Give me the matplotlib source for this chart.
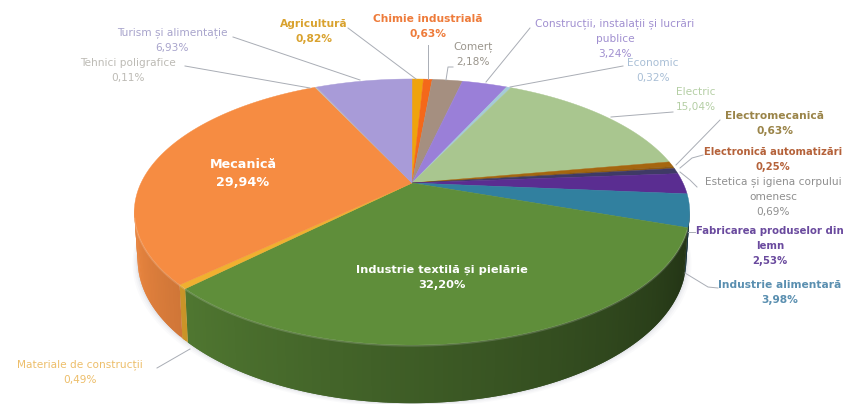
import numpy as np
import matplotlib
matplotlib.use("Agg")
import matplotlib.pyplot as plt
from matplotlib.collections import PolyCollection

names = ["Agricultură", "Chimie industrială", "Comerț", "Construcții, instalații și lucrări\npublice",
         "Economic", "Electric", "Electromecanică", "Electronică automatizări",
         "Estetica și igiena corpului\nomenesc", "Fabricarea produselor din\nlemn",
         "Industrie alimentară", "Industrie textilă și pielărie", "Materiale de construcții",
         "Mecanică", "Tehnici poligrafice", "Turism și alimentație"]
values = [0.82, 0.63, 2.18, 3.24, 0.32, 15.04, 0.63, 0.25, 0.69, 2.53, 3.98, 32.20, 0.49, 29.94, 0.11, 6.93]
labels_pct = ["0,82%", "0,63%", "2,18%", "3,24%", "0,32%", "15,04%", "0,63%", "0,25%", "0,69%", "2,53%",
              "3,98%", "32,20%", "0,49%", "29,94%", "0,11%", "6,93%"]
face_colors = ["#EFA30C", "#F4681A", "#A58F80", "#9A7FD8", "#A5CBD8", "#A9C68F", "#A5660F", "#8F5A10",
               "#3F3A66", "#5A2D91", "#31809F", "#5F8E3A", "#F0B030", "#F68C42", "#BDBDBD", "#A89BD8"]
text_colors = ["#D9A22E", "#EE7B3A", "#9A958C", "#A08FD0", "#A9BFD6", "#B5CFA5", "#9A8448", "#B5623A",
               "#8F8F8F", "#6A4A9E", "#5A8FB0", "#FFFFFF", "#EDBE6A", "#FFFFFF", "#BDBBB5", "#A8A4CC"]
bold = [1, 1, 0, 0, 0, 0, 1, 1, 0, 1, 1, 1, 0, 1, 0, 0]
font_sizes = [7.7, 7.7, 7.6, 7.6, 7.6, 7.6, 7.7, 7.2, 7.6, 7.3, 7.7, 8.2, 7.6, 9.2, 7.6, 7.6]
label_pos = [(314, 24), (428, 19), (473, 47), (615, 24), (653, 63), (696, 92), (775, 116), (773, 152),
             (773, 182), (770, 231), (780, 285), (442, 270), (80, 365), (243, 165), (128, 63), (172, 33)]
leaders = [[(348, 28), (416, 79)], [(428, 45), (428, 79)], [(453, 67), (448, 67), (446, 80)],
           [(530, 28), (486, 82)], [(623, 66), (510, 87)], [(673, 112), (611, 117)],
           [(720, 120), (676, 165)], [(703, 155), (692, 158), (680, 168)],
           [(697, 187), (690, 180), (680, 172)], [(695, 232), (688, 232)],
           [(718, 288), (708, 287), (685, 273)], None, [(157, 368), (190, 349)], None,
           [(185, 66), (310, 88)], [(233, 37), (360, 80)]]

CX, CY, R, K, P, H = 412, 183, 271, 126.7, 0.218, 45.5


def project(t, drop=0.0):
    s = 1 / (1 + P * np.sin(t))
    x = CX + R * np.cos(t) * s * (1 - 0.012 * (drop > 0))
    y = CY - K * np.sin(t) * s + drop * s
    return x, y


def shade(color, f):
    return tuple(c * f for c in matplotlib.colors.to_rgb(color))


fig = plt.figure(figsize=(8.46, 4.04), dpi=100)
ax = fig.add_axes([0, 0, 1, 1])
ax.set_xlim(0, 846)
ax.set_ylim(404, 0)
ax.axis("off")
plt.rcParams["font.family"] = ["DejaVu Sans"]

edges = np.pi / 2 - 2 * np.pi * np.cumsum([0] + values) / sum(values)

# soft shadow under the pie
tt = np.linspace(0, 2 * np.pi, 240)
for grow, alpha in [(5, 0.03), (3.5, 0.04), (2, 0.05), (1, 0.06)]:
    sx, sy = project(tt, H)
    ax.fill(CX + (sx - CX) * (1 + grow / 270), sy + grow * 0.8, color="#6A7A90", alpha=alpha, lw=0, zorder=1)

# side wall: overlapping strips, painted from right to left so no seams show
step = np.radians(0.8)
wall_polys, wall_cols = [], []
for i, v in enumerate(values):
    a, b = edges[i], edges[i + 1]
    n = max(2, int(abs(a - b) / step) + 2)
    ts = np.linspace(a, b, n)
    for t0, t1 in zip(ts[:-1], ts[1:]):
        tm = (t0 + t1) / 2
        if np.sin(tm) > -P + 0.02:
            continue
        deg = np.degrees(np.arctan2(np.sin(tm), np.cos(tm)))
        if deg > 90:
            deg -= 360
        f = np.clip(0.36 + 0.58 * (-19 - deg) / 141, 0.36, 0.94)
        t_end = max(t1 - step, b)  # run under the next strip
        x0, y0 = project(t0)
        x1, y1 = project(t_end)
        x2, y2 = project(t_end, H)
        x3, y3 = project(t0, H)
        wall_polys.append([(x0, y0), (x1, y1), (x2, y2), (x3, y3)])
        wall_cols.append(shade(face_colors[i], f))
ax.add_collection(PolyCollection(wall_polys, facecolors=wall_cols, edgecolors="none", linewidths=0, zorder=2))

# top face
for i, v in enumerate(values):
    n = max(3, int(abs(edges[i] - edges[i + 1]) / np.radians(1)) + 2)
    ts = np.linspace(edges[i], edges[i + 1], n)
    x, y = project(ts)
    ax.fill(np.r_[CX, x], np.r_[CY, y], color=face_colors[i], lw=0.3, zorder=3)

# faint highlight along the front rim
ft = np.linspace(np.radians(-165), np.radians(-20), 120)
rx, ry = project(ft)
ax.plot(rx, ry + 0.8, color="#FFFFFF", alpha=0.16, lw=1.2, zorder=4)

for i, seg in enumerate(leaders):
    if seg:
        xs, ys = zip(*seg)
        ax.plot(xs, ys, color="#A9ADB5", lw=0.7, zorder=5)

for i, name in enumerate(names):
    x, y = label_pos[i]
    lines = name.split("\n") + [labels_pct[i]]
    for j, line in enumerate(lines):
        ax.text(x, y + j * (18 if i == 13 else 15), line, ha="center", va="center", fontsize=font_sizes[i],
                color=text_colors[i], fontweight="bold" if bold[i] else "normal", zorder=6)

fig.savefig("out.png", dpi=100)
